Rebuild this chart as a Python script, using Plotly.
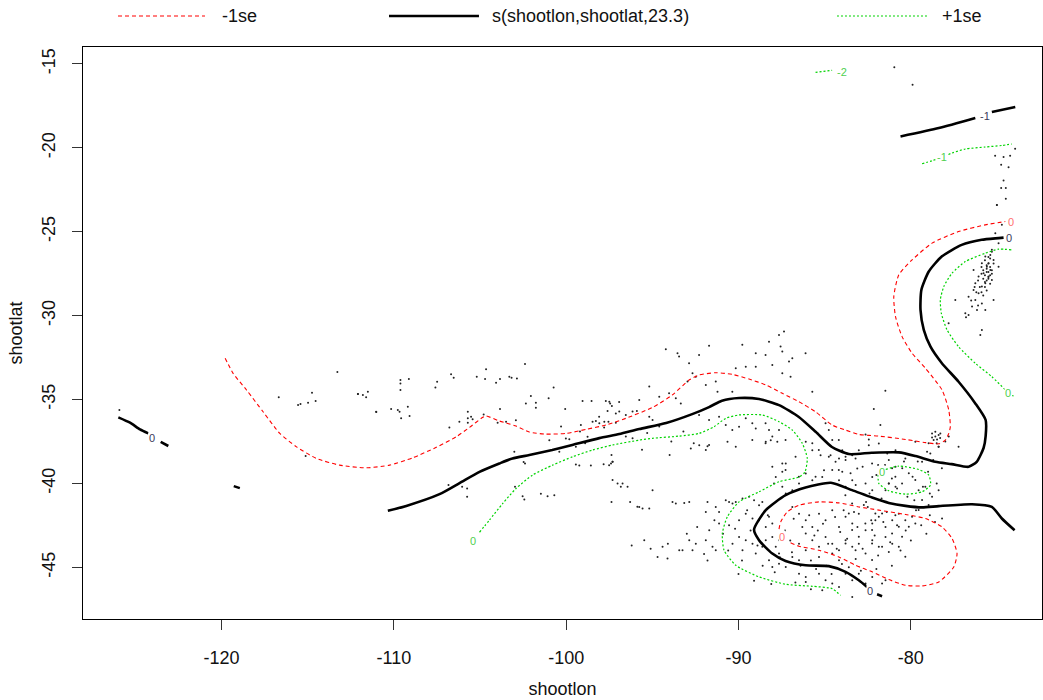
import plotly.graph_objects as go

# ---------------- axis ticks ----------------
x_ticks = [-120, -110, -100, -90, -80]
y_ticks = [-45, -40, -35, -30, -25, -20, -15]
x_range = [-128.04, -72.39]
y_range = [-48.08, -13.99]

# ---------------- fitted surface s(...) contours (solid black) ----------------
fit0_main_lon = [-110.35, -109.28, -107.35, -106.19, -105.03, -103.88, -103.12, -102.14, -100.81, -99.65,
                 -98.08, -96.92, -95.76, -94.20, -92.69, -91.71, -90.96, -89.97, -88.81, -87.65, -86.50,
                 -85.51, -84.58, -83.60, -82.27, -80.70, -79.73, -78.58, -77.63, -76.65, -76.18, -75.78,
                 -75.66, -75.66, -76.26, -77.23, -78.21, -78.86, -79.25, -79.44, -79.39, -78.96, -78.21,
                 -77.05, -75.89, -74.91, -74.62]
fit0_main_lat = [-41.63, -41.34, -40.64, -39.98, -39.31, -38.81, -38.51, -38.31, -38.01, -37.71,
                 -37.30, -37.06, -36.76, -36.40, -35.87, -35.45, -35.07, -34.91, -34.97, -35.33, -36.04,
                 -36.94, -37.83, -38.25, -38.17, -38.15, -38.37, -38.71, -38.85, -39.01, -38.71, -37.89,
                 -37.18, -36.22, -35.23, -33.94, -32.82, -31.85, -30.85, -29.66, -28.47, -27.37, -26.48,
                 -25.78, -25.48, -25.38, -25.35]
fit0_loop_lon = [-73.98, -74.72, -75.30, -76.45, -78.38, -79.35, -80.31, -81.28, -82.25, -83.41, -84.64,
                 -86.11, -87.27, -88.42, -89.10, -88.81, -88.04, -87.27, -86.11, -84.76, -83.79, -83.02,
                 -82.54, None, -81.96, -81.67]
fit0_loop_lat = [-42.79, -42.09, -41.40, -41.24, -41.35, -41.43, -41.34, -41.16, -40.84, -40.40, -39.96,
                 -40.24, -40.70, -41.59, -42.75, -43.38, -44.18, -44.62, -44.88, -44.93, -45.27, -45.77,
                 -46.17, None, -46.61, -46.72]
fit0_west_lon = [-125.99, -125.31, -124.73, -124.25, None, -123.53, -123.09, None, -119.29, -118.94]
fit0_west_lat = [-36.06, -36.38, -36.78, -37.02, None, -37.52, -37.77, None, -40.16, -40.28]
fitm1_lon = [-80.60, -78.38, -76.26, None, -75.30, -73.94]
fitm1_lat = [-19.32, -18.82, -18.22, None, -17.86, -17.57]

# ---------------- -1se contours (red dashed) ----------------
lo0_main_lon = [-119.79, -119.33, -118.55, -117.59, -116.62, -115.65, -114.50, -113.15, -111.60, -110.25,
                -108.90, -107.54, -106.38, -105.61, -104.84, -104.65, -103.88, -102.91, -102.14, -101.17,
                -100.01, -98.85, -97.69, -96.54, -94.99, -93.84, -92.87, -92.29, -91.32, -90.36, -89.39,
                -88.42, -87.46, -86.50, -85.53, -84.57, -83.79, -83.02, -81.86, -80.31, -79.15, -78.38,
                -78.00, -77.80, -77.71, -77.80, -78.19, -79.15, -79.93, -80.51, -80.89, -80.99, -80.70,
                -79.93, -78.77, -77.23, -75.68, -74.52]
lo0_main_lat = [-32.54, -33.44, -34.43, -35.73, -37.02, -37.82, -38.51, -38.91, -39.07, -38.91,
                -38.47, -37.85, -37.22, -36.66, -36.06, -35.98, -36.28, -36.58, -36.94, -37.06,
                -37.02, -36.78, -36.52, -36.12, -35.47, -34.73, -33.84, -33.54, -33.40, -33.50, -33.78,
                -34.13, -34.63, -35.13, -35.73, -36.52, -36.82, -37.08, -37.18, -37.38, -37.57, -37.64,
                -37.42, -37.02, -36.62, -35.63, -34.43, -33.14, -32.24, -31.25, -30.06, -28.87, -27.57,
                -26.68, -25.68, -24.99, -24.59, -24.39]
lo0_loop_lon = [-86.98, -86.50, -85.34, -84.18, -83.21, -82.25, -81.28, -80.31, -79.35, -78.38, -77.51,
                -77.32, -77.61, -78.19, -79.15, -80.31, -81.86, -83.02, -84.18, -85.34, -86.50, -87.17,
                -87.55, -87.65, -87.46]
lo0_loop_lat = [-43.54, -43.74, -43.98, -44.38, -44.88, -45.27, -45.73, -46.07, -46.11, -45.87, -44.98,
                -44.18, -43.28, -42.59, -42.09, -41.85, -41.59, -41.40, -41.16, -41.10, -41.30, -41.69,
                -42.29, -42.79, -43.19]

# ---------------- +1se contours (green dotted) ----------------
hi0_main_lon = [-105.03, -104.46, -103.68, -102.91, -101.95, -100.79, -99.63, -98.47, -97.31, -95.76,
                -94.99, -93.45, -92.29, -91.42, -90.74, -89.97, -88.62, -87.65, -86.88, -86.30, -86.01,
                -86.15, -86.50, -87.65, -88.81, -89.97, -90.65, -90.94, -90.84, -90.16, -88.81, -87.27,
                -85.72, -84.57, -84.08]
hi0_main_lat = [-42.91, -42.19, -41.19, -40.30, -39.50, -38.91, -38.41, -38.01, -37.71, -37.42,
                -37.31, -37.18, -37.02, -36.62, -36.12, -35.92, -35.92, -36.32, -36.82, -37.61, -38.51,
                -39.33, -39.62, -39.90, -40.50, -41.10, -41.99, -42.98, -43.98, -44.88, -45.57, -46.01,
                -46.13, -46.27, -46.67]
hi0_small_lon = [-81.47, -80.70, -79.54, -78.96, -78.86, -79.35, -80.31, -81.28, -81.86, -81.90]
hi0_small_lat = [-39.17, -38.97, -39.17, -39.50, -40.10, -40.50, -40.64, -40.44, -40.00, -39.50]
hi0_east_lon = [-74.17, -74.91, -75.68, -76.84, -77.61, -78.09, -78.29, -78.23, -77.90, -77.23, -76.26,
                -75.30, -74.52, -74.37, -74.04]
hi0_east_lat = [-26.08, -26.04, -26.28, -26.78, -27.47, -28.27, -29.06, -29.86, -30.85, -31.85, -32.84,
                -33.64, -34.43, -34.63, -34.79]
him1_lon = [-79.35, -78.77, -78.19, -77.61, -76.84, -75.68, -74.72, -74.14]
him1_lat = [-20.95, -20.77, -20.55, -20.31, -20.07, -19.95, -19.86, -19.77]
him2_lon = [-85.53, -84.57]
him2_lat = [-15.50, -15.38]

# ---------------- contour labels ----------------
lab_text = ["0", "0", "0", "-1", "0", "0", "0", "0", "0", "-1", "-2"]
lab_lon = [-74.33, -82.38, -124.06, -75.68, -74.17, -87.46, -105.38, -81.67, -74.37, -78.19, -84.02]
lab_lat = [-25.37, -46.41, -37.28, -18.08, -24.39, -43.19, -43.44, -39.31, -34.63, -20.55, -15.50]
lab_kind = ["fit", "fit", "fit", "fit", "lo", "lo", "hi", "hi", "hi", "hi", "hi"]

# ---------------- observed haul positions (pch ".") ----------------
obs_w_lon = [-125.93, -116.68, -115.56, -115.42, -114.98, -114.75, -114.54, -113.28, -112.08, -111.02, -115.12,
             -112.09, -111.80, -111.51, -111.61, -111.03, -110.16, -109.77, -109.67, -109.19, -109.09, -109.58,
             -109.62, -109.62, -109.62, -109.13, -107.49, -107.59, -106.68, -106.53, -105.19, -104.65, -104.71,
             -104.07, -103.84, -103.30, -103.17, -102.86, -102.39, -102.05, -102.34, -101.76, -101.76, -101.02,
             -100.73, -100.06, -99.05, -98.53, -97.70, -97.45, -96.93, -97.60, -97.35, -97.12, -96.54, -95.90,
             -106.78, -106.20, -105.71, -105.71, -105.52, -105.43, -105.71, -104.79, -103.84, -103.98, -103.49,
             -102.92, -103.01, -102.47, -102.39, -100.98, -100.40, -100.02, -99.82, -99.44, -99.15, -98.76,
             -98.47, -98.28, -98.09, -97.80, -97.55, -97.12, -99.44, -99.24, -98.57, -97.83, -97.37, -97.31,
             -97.51, -97.31, -97.02, -96.83, -96.44, -96.73, -106.83, -106.04, -105.75, -105.75, -102.97,
             -102.53, -102.43, -101.47, -101.08, -100.69, -97.37, -96.29, -95.87,
             -95.3, -94.6, -93.9, -93.2, -92.6, -94.0, -95.6, -99.2, -98.9, -100.3]
obs_w_lat = [-35.63, -34.87, -35.33, -35.27, -35.19, -34.59, -35.09, -33.36, -34.67, -35.75, -38.37,
             -34.67, -34.73, -34.53, -34.87, -35.73, -35.57, -35.63, -35.73, -35.43, -35.98, -36.12,
             -33.84, -34.04, -34.43, -33.78, -33.94, -34.29, -33.50, -33.70, -33.64, -33.20, -33.78,
             -34.00, -33.78, -33.64, -33.70, -33.74, -32.88, -34.79, -35.23, -35.19, -35.49, -34.93,
             -34.29, -35.57, -35.09, -35.09, -35.09, -35.23, -35.15, -35.69, -35.39, -35.83, -35.92, -35.69,
             -36.66, -36.32, -35.73, -36.12, -36.02, -36.18, -36.38, -35.89, -35.57, -36.38, -36.32,
             -36.24, -38.11, -38.73, -38.81, -37.42, -38.11, -37.32, -37.36, -37.81, -36.52, -37.22,
             -36.32, -36.28, -36.02, -36.66, -36.32, -36.38, -38.87, -38.93, -38.93, -38.85, -38.31, -38.71,
             -38.91, -39.80, -40.00, -40.20, -40.20, -40.00, -40.10, -40.20, -40.30, -40.80, -40.20,
             -40.76, -40.96, -40.62, -40.76, -40.70, -41.10, -41.10, -41.39,
             -37.0, -36.6, -37.5, -36.9, -37.6, -38.3, -38.0, -36.9, -37.6, -36.6]

obs_c_lon = [-94.22, -93.54, -93.45, -92.29, -91.71, -89.78, -89.00, -88.43, -88.23, -87.56, -87.46, -87.07,
             -86.88, -86.11, -87.65, -87.36, -92.87, -92.67, -92.96, -92.48, -91.90, -91.32, -91.22, -90.36,
             -90.16, -89.58, -89.00, -88.04, -87.46, -86.98, -85.72, -95.18, -94.60, -94.03, -93.64, -93.35,
             -95.76, -97.50, -97.79, -98.08, -96.92, -96.15, -95.18, -94.99, -92.29, -91.71, -91.13, -90.74,
             -90.36, -89.97, -89.58, -89.20, -89.00, -88.43, -88.23, -88.04, -87.65, -87.27, -89.20, -88.43,
             -91.71, -91.90, -96.15, -96.54, -97.31, -97.40, -88.04, -87.46, -87.27, -86.69, -85.72, -85.34,
             -84.95, -84.76, -84.56, -84.18, -84.76, -84.37, -84.56, -84.18, -83.79, -86.50, -85.53,
             -96.2, -95.1, -94.1, -92.0]
obs_c_lat = [-32.00, -32.24, -32.44, -32.34, -31.80, -31.74, -32.24, -32.34, -31.55, -31.84, -32.14, -32.74,
             -32.54, -32.24, -31.15, -30.95, -32.84, -33.44, -33.93, -33.64, -34.13, -33.93, -34.53, -34.53,
             -33.14, -33.04, -33.04, -32.94, -33.44, -33.64, -34.53, -34.23, -34.83, -34.63, -34.93, -35.23,
             -35.03, -35.13, -36.32, -36.42, -35.72, -35.72, -36.02, -36.22, -35.92, -36.22, -36.02, -36.52,
             -36.82, -36.62, -36.12, -36.42, -36.72, -36.42, -36.82, -37.21, -36.82, -37.41, -37.41, -37.61,
             -37.71, -38.01, -37.31, -37.21, -38.71, -38.81, -39.00, -38.81, -39.20, -38.41, -37.61, -38.01,
             -36.42, -36.82, -37.41, -37.41, -38.41, -38.71, -39.20, -39.20, -38.61, -39.60, -39.60,
             -43.7, -43.9, -43.6, -44.2]

obs_s_lon = [-92.28, -91.80, -90.64, -90.16, -88.42, -88.13, -87.75, -86.10, -85.72, -85.24, -84.66, -84.17,
             -83.98, -83.40, -83.02, -82.44, -81.86, -81.37, -80.89, -83.11, -83.98, -82.24, -81.28, -80.89,
             -92.77, -87.26, -87.46, -87.84, -87.94, -87.46, -87.26, -86.88, -86.49, -86.10, -85.72, -85.14,
             -85.04, -84.17, -83.79, -83.40, -82.63, -82.24, -81.47, -80.89, -94.99, -93.83, -93.64, -93.15,
             -92.86, -91.90, -91.80, -91.32, -91.13, -90.74, -90.55, -90.35, -90.16, -89.77, -89.39, -89.10,
             -88.81, -88.62, -95.76, -95.57, -95.18, -89.58, -89.19, -88.81, -88.23, -88.04, -88.42, -89.97,
             -90.55, -91.13, -91.70, -91.90, -91.51, -91.32, -92.86, -92.48, -93.44, -93.25, -92.67, -94.70,
             -94.41, -94.12, -95.47, -89.97, -89.58, -89.19, -89.77, -90.35, -89.00, -88.62, -88.42, -88.04,
             -87.65, -87.84, -87.65, -88.23, -88.04, -87.65, -87.26, -86.88, -86.49, -86.88, -86.49, -86.10,
             -85.72, -86.10, -85.33, -84.95, -84.56, -84.17, -83.79, -83.40, -83.02, -82.63, -82.24, -81.86,
             -81.47, -81.08, -80.70, -85.72, -85.33, -84.95, -84.56, -84.17, -83.79, -83.40, -83.02, -82.63,
             -82.24, -81.86, -81.47, -81.08, -85.33, -84.56, -84.17, -86.10, -86.49, -86.49, -86.10, -85.33,
             -84.95, -84.56, -84.17, -83.79, -83.40, -83.02, -82.63, -82.24, -81.47, -83.40, -85.14, -86.10]
obs_s_lat = [-37.72, -37.78, -37.52, -37.82, -37.52, -37.42, -37.52, -37.52, -38.02, -38.32, -38.32, -38.51,
             -38.02, -38.32, -38.02, -37.72, -37.62, -38.22, -38.02, -39.11, -39.31, -39.61, -40.01, -39.01,
             -37.92, -38.81, -39.31, -39.61, -40.01, -40.20, -40.60, -40.40, -40.01, -39.41, -39.81, -39.61,
             -39.21, -39.81, -40.20, -39.81, -40.01, -40.40, -40.40, -40.20, -40.40, -41.10, -41.20, -41.16,
             -41.10, -41.70, -41.10, -41.40, -41.70, -41.00, -41.10, -41.20, -41.10, -40.90, -40.80, -41.00,
             -41.30, -41.10, -41.40, -41.50, -41.50, -41.80, -42.09, -42.19, -41.99, -42.39, -42.59, -42.19,
             -42.49, -42.39, -42.79, -43.39, -43.78, -43.98, -43.39, -43.59, -43.98, -43.98, -43.98, -44.38,
             -43.78, -44.48, -43.39, -43.19, -43.39, -43.59, -43.98, -43.59, -44.18, -43.78, -43.39, -43.19,
             -43.39, -43.78, -44.18, -44.58, -44.98, -44.78, -44.98, -44.38, -44.58, -41.40, -41.80, -42.19,
             -42.59, -42.99, -41.80, -42.19, -41.60, -42.59, -41.99, -42.39, -41.80, -42.79, -42.39, -41.99,
             -42.59, -42.19, -41.80, -43.39, -43.78, -43.19, -43.59, -43.98, -43.39, -43.78, -43.59, -44.18,
             -43.39, -43.78, -43.19, -43.59, -44.38, -44.18, -44.58, -43.98, -43.59, -45.38, -45.57, -45.38,
             -45.77, -45.97, -46.17, -45.38, -45.77, -45.38, -45.97, -45.57, -45.77, -46.77, -46.37, -45.87]

obs_d_lon = [-86.8, -86.3, -85.9, -85.6, -85.1, -84.8, -84.4, -84.1, -83.7, -83.3, -83.1, -82.8, -82.5, -82.1,
             -81.9, -81.6, -81.2, -80.9, -80.6, -80.3, -80.0, -79.7, -79.4, -79.1, -78.9, -78.6, -86.9, -86.4,
             -85.8, -85.5, -84.9, -84.6, -84.0, -83.6, -83.2, -82.9, -82.0, -81.1, -87.3, -87.0, -85.4, -84.3,
             -83.9, -82.3, -81.4, -80.8,
             -83.5, -83.2, -82.8, -82.4, -82.0, -81.7, -81.5, -81.1, -80.8, -80.5, -80.2, -79.9, -79.6, -79.3,
             -79.0, -78.7, -78.5, -78.2, -80.4, -81.9, -83.8, -82.6, -79.8, -78.9,
             -91.4, -90.9, -90.6, -90.2, -89.8, -89.5, -89.3, -88.9, -88.6, -88.3, -87.9, -87.6, -90.0, -89.1,
             -88.1, -86.7, -85.8, -91.8, -92.4, -93.0,
             -78.3, -78.0, -77.8, -78.5]
obs_d_lat = [-42.1, -42.6, -41.9, -43.1, -42.4, -43.6, -42.0, -42.9, -43.3, -41.7, -42.6, -43.9, -41.4, -43.1,
             -44.3, -42.3, -43.5, -41.9, -44.0, -42.8, -43.4, -41.6, -42.5, -43.0, -41.9, -42.3, -44.1, -44.9,
             -44.6, -45.1, -44.9, -45.4, -44.8, -45.0, -44.5, -45.2, -45.1, -44.9, -42.8, -43.4, -42.8, -43.9,
             -41.6, -42.2, -41.7, -42.5,
             -39.4, -40.1, -39.0, -40.6, -39.5, -40.9, -38.9, -39.7, -40.3, -39.1, -40.8, -39.6, -38.7, -40.2,
             -39.3, -38.6, -40.0, -39.1, -38.7, -38.9, -40.7, -41.1, -41.0, -40.6,
             -42.2, -43.0, -44.0, -42.7, -44.6, -41.6, -42.8, -43.7, -44.9, -41.9, -45.3, -44.4, -45.4, -45.8,
             -46.0, -45.9, -46.3, -44.6, -42.6, -43.0,
             -37.3, -37.5, -37.2, -37.6]

obs_e_lon = [-81.77, -78.77, -78.58, -78.39, -78.68, -78.97, -78.39, -79.06, -78.87, -83.79, -83.21, -82.25,
             -81.28, -80.32, -79.35, -81.09, -80.90, -80.51, -81.28, -80.12, -79.74, -79.55, -79.16, -78.77,
             -78.39, -79.35, -78.97, -79.55, -79.93, -80.32, -80.70, -81.09, -80.51, -80.12, -79.74, -81.67,
             -82.06, -82.25, -82.64, -83.02, -83.41, -83.79, -83.21, -82.25, -81.67, -81.28, -80.70, -80.32,
             -82.06, -82.73, -83.41, -83.60, -78.19, -82.25, -81.67,
             -75.01, -74.72, -75.10, -74.91, -75.30, -75.68, -75.88, -75.59, -75.39, -75.78, -76.07, -75.49,
             -75.30, -75.68, -75.88, -76.26, -76.36, -76.07, -76.65, -76.26, -76.45, -75.88, -76.16, -76.84,
             -76.65, -75.68, -75.20, -77.42, -77.81, -75.88, -75.97, -75.49, -75.20, -75.39, -76.36, -74.91,
             -81.48, -82.15, -82.63, -82.44, -78.77, -78.48, -78.29, -78.58, -79.74, -78.39, -77.23,
             -75.6, -75.5, -75.7, -75.4, -75.8, -75.6, -75.9, -75.3, -75.5, -75.7, -76.0, -75.6, -75.8, -76.2,
             -75.5, -75.4, -75.7,
             -75.3, -75.5, -75.2, -75.6, -75.4, -75.9, -75.3, -75.6, -75.5, -75.8, -76.1, -75.4, -75.7, -76.3,
             -75.9, -76.5, -76.1, -76.8,
             -80.96, -79.90, -75.11, -74.62, -74.24, -73.95, -74.76, -74.33, -74.62, -74.76, -74.49, -74.49,
             -75.01]
obs_e_lat = [-36.52, -37.02, -37.21, -37.12, -37.41, -37.61, -37.81, -38.11, -38.21, -38.41, -38.51, -38.81,
             -38.61, -38.51, -38.71, -39.10, -39.60, -40.00, -40.00, -39.40, -39.80, -40.40, -40.20, -40.79,
             -40.40, -40.99, -41.29, -41.59, -41.99, -42.19, -42.58, -42.98, -43.18, -42.58, -42.39, -41.79,
             -42.19, -42.78, -42.39, -43.18, -42.78, -43.58, -43.98, -43.58, -43.78, -44.08, -43.78, -44.37,
             -41.79, -41.29, -41.19, -41.79, -42.09, -44.57, -45.97,
             -23.40, -24.59, -25.09, -25.69, -26.08, -26.48, -26.88, -27.08, -27.28, -27.48, -27.67, -27.67,
             -27.87, -28.07, -28.27, -28.07, -28.47, -28.67, -28.87, -29.07, -29.46, -29.27, -29.66, -29.86,
             -29.96, -29.66, -29.07, -29.07, -30.46, -30.86, -31.16, -26.88, -26.68, -26.38, -27.28, -27.08,
             -34.48, -35.57, -37.08, -37.38, -37.26, -37.38, -37.02, -36.92, -37.52, -37.82, -37.82,
             -27.2, -27.4, -27.6, -27.6, -27.3, -27.9, -27.5, -27.3, -27.8, -28.0, -28.3, -28.5, -28.8, -28.6,
             -26.9, -26.6, -26.7,
             -26.2, -26.5, -26.9, -27.0, -27.1, -27.1, -27.5, -27.4, -27.7, -27.8, -27.9, -28.1, -28.3, -28.3,
             -28.6, -29.1, -29.4, -30.1,
             -15.20, -16.24, -20.47, -20.55, -20.47, -20.06, -21.01, -21.15, -21.95, -22.40, -22.40, -23.04,
             -23.40]

# ---------------- legend ----------------
legend_labels = ["-1se", "s(shootlon,shootlat,23.3)", "+1se"]

# ---------------- styles ----------------
FONT = "Liberation Sans, Arial, sans-serif"
BLACK = "#000000"
RED = "#ff0000"
GREEN = "#00d400"
label_color = {"fit": "#3a3a5a", "lo": "#ff7070", "hi": "#50d050"}

fig = go.Figure()

obs_lon = obs_w_lon + obs_c_lon + obs_s_lon + obs_d_lon + obs_e_lon
obs_lat = obs_w_lat + obs_c_lat + obs_s_lat + obs_d_lat + obs_e_lat
fig.add_trace(go.Scatter(x=obs_lon, y=obs_lat, mode="markers",
                         marker=dict(size=2, color="#222222", line=dict(width=0)),
                         hoverinfo="skip", showlegend=False))

def add_line(xs, ys, color, width, dash):
    fig.add_trace(go.Scatter(x=xs, y=ys, mode="lines",
                             line=dict(color=color, width=width, dash=dash, shape="spline", smoothing=0.6),
                             connectgaps=False, hoverinfo="skip", showlegend=False))

for xs, ys in [(lo0_main_lon, lo0_main_lat), (lo0_loop_lon, lo0_loop_lat)]:
    add_line(xs, ys, RED, 1.1, "4px,3px")
for xs, ys in [(hi0_main_lon, hi0_main_lat), (hi0_small_lon, hi0_small_lat), (hi0_east_lon, hi0_east_lat),
               (him1_lon, him1_lat), (him2_lon, him2_lat)]:
    add_line(xs, ys, GREEN, 1.2, "2px,2px")
for xs, ys in [(fit0_main_lon, fit0_main_lat), (fit0_loop_lon, fit0_loop_lat),
               (fit0_west_lon, fit0_west_lat), (fitm1_lon, fitm1_lat)]:
    add_line(xs, ys, BLACK, 2.6, "solid")

for t, lx, ly, k in zip(lab_text, lab_lon, lab_lat, lab_kind):
    fig.add_annotation(x=lx, y=ly, text=t, showarrow=False, xref="x", yref="y",
                       font=dict(family=FONT, size=11, color=label_color[k]),
                       bgcolor="white", borderpad=0)

# manual legend above the plot (paper coordinates)
leg_y = 1.0542
leg_items = [(0.0365, 0.1272, 0.1429, RED, 1.1, "4px,3px"),
             (0.3191, 0.4129, 0.4244, BLACK, 2.6, "solid"),
             (0.7862, 0.8801, 0.8936, GREEN, 1.2, "2px,2px")]
for (x0, x1, xt, col, w, d), txt in zip(leg_items, legend_labels):
    fig.add_shape(type="line", xref="paper", yref="paper", x0=x0, x1=x1, y0=leg_y, y1=leg_y,
                  line=dict(color=col, width=w, dash=d))
    fig.add_annotation(xref="paper", yref="paper", x=xt, y=leg_y, text=txt, showarrow=False,
                       xanchor="left", yanchor="middle", font=dict(family=FONT, size=18, color="#111"))

axis_common = dict(showgrid=False, zeroline=False, showline=True, linecolor="black", linewidth=1,
                   mirror=True, ticks="outside", ticklen=10, tickwidth=1, tickcolor="#333",
                   tickfont=dict(family=FONT, size=18, color="#111"))
fig.update_xaxes(range=x_range, tickvals=x_ticks, ticktext=[str(v) for v in x_ticks],
                 ticklabelstandoff=12,
                 title=dict(text="shootlon", font=dict(family=FONT, size=18, color="#111"), standoff=15),
                 **axis_common)
fig.update_yaxes(range=y_range, tickvals=y_ticks, ticktext=[str(v) for v in y_ticks], tickangle=-90,
                 ticklabelstandoff=10,
                 title=dict(text="shootlat", font=dict(family=FONT, size=18, color="#111"), standoff=11),
                 **axis_common)

fig.update_layout(width=1043, height=700, margin=dict(l=83, r=1, t=47, b=81),
                  paper_bgcolor="white", plot_bgcolor="white", showlegend=False,
                  font=dict(family=FONT, size=18, color="#111"))

fig.write_html("out.html")
